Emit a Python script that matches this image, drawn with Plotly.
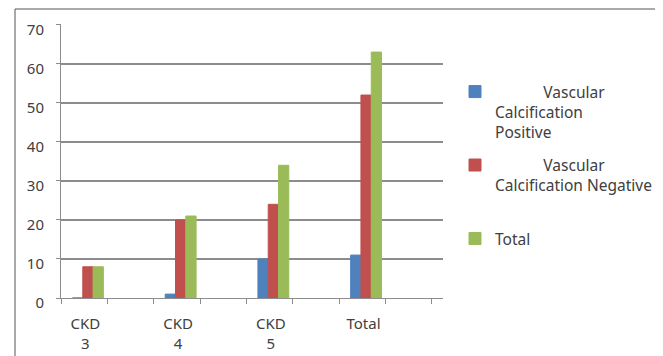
import plotly.graph_objects as go

# data
stages = ["CKD<br>3", "CKD<br>4", "CKD<br>5", "Total"]
vc_positive = [0, 1, 10, 11]
vc_negative = [8, 20, 24, 52]
vc_total = [8, 21, 34, 63]

_IND = "\u00a0" * 12
series_names = [
    _IND + "Vascular<br>Calcification<br>Positive",
    _IND + "Vascular<br>Calcification Negative<br>\u00a0",
    "Total",
]

# Excel 2007 palette
_BLUE = "#4F81BD"
_RED = "#C0504D"
_GREEN = "#9BBB59"
_GRID = "#8C8C8C"
_TEXT = "#404040"

# bar layout (category units), bars sit left of the category centre like the 3D original
_BAR_W = 0.111
_OFFSETS = [-0.376, -0.265, -0.154]
_XRANGE = [-0.5, 3.62]

# the page body adds an 8px margin, so the figure is drawn 8px smaller
_PAGE = 8
_W, _H = 663 - _PAGE, 356 - _PAGE
# plot area in window pixels
_L, _R, _T, _B = 61, 443, 24, 298

# category positions on a linear axis so ticks can sit at centres and boundaries
xpos = list(range(len(stages)))

fig = go.Figure()
for i, (name, vals, color, off) in enumerate(
    zip(series_names, [vc_positive, vc_negative, vc_total], [_BLUE, _RED, _GREEN], _OFFSETS)
):
    fig.add_trace(
        go.Bar(
            x=xpos,
            y=vals,
            name=name,
            legendgroup=f"g{i}",
            width=_BAR_W,
            offset=off,
            marker={"color": color, "line": {"color": color, "width": 1}},
            customdata=[s.replace("<br>", " ") for s in stages],
            hovertemplate="%{customdata}: %{y}<extra></extra>",
        )
    )


def _px(x):
    return (x - _L) / (_R - _L)


def _py(y):
    return (_B - y) / (_B - _T)


# outer frame of the original figure
fig.add_shape(
    type="rect",
    xref="paper",
    yref="paper",
    x0=_px(15),
    x1=_px(657),
    y0=_py(380),
    y1=_py(9),
    line={"color": "#555555", "width": 1},
    layer="below",
)

fig.update_layout(
    width=_W,
    height=_H,
    paper_bgcolor="white",
    plot_bgcolor="white",
    barmode="overlay",
    font={"family": "Noto Sans, Open Sans, sans-serif", "size": 15, "color": _TEXT},
    margin={
        "l": _L - _PAGE,
        "r": _W - (_R - _PAGE),
        "t": _T - _PAGE,
        "b": _H - (_B - _PAGE),
        "pad": 0,
        "autoexpand": False,
    },
    showlegend=True,
    legend={
        "x": _px(455),
        "y": _py(75),
        "xanchor": "left",
        "yanchor": "top",
        "valign": "top",
        "itemwidth": 30,
        "font": {"size": 15.5, "color": _TEXT},
        "bgcolor": "rgba(0,0,0,0)",
        "tracegroupgap": 10,
    },
    xaxis={
        "range": _XRANGE,
        "automargin": False,
        "tickvals": xpos,
        "ticktext": stages,
        "showline": True,
        "linecolor": _GRID,
        "linewidth": 1,
        "ticks": "outside",
        "ticklen": 5,
        "tickcolor": _GRID,
        "minor": {
            "ticks": "outside",
            "ticklen": 5,
            "tick0": -0.5,
            "dtick": 1,
            "tickcolor": _GRID,
            "showgrid": False,
        },
        "ticklabelshift": -22,
        "ticklabelstandoff": 7,
        "tickfont": {"size": 15},
        "showgrid": False,
        "zeroline": False,
        "fixedrange": True,
    },
    yaxis={
        "range": [0, 70.2],
        "tickvals": [0, 10, 20, 30, 40, 50, 60, 70],
        "automargin": False,
        "showline": True,
        "linecolor": _GRID,
        "linewidth": 1,
        "ticks": "outside",
        "ticklen": 4,
        "tickcolor": _GRID,
        "showgrid": True,
        "gridcolor": _GRID,
        "gridwidth": 1.5,
        "zeroline": False,
        "ticklabelshift": 5,
        "ticklabelstandoff": 9,
        "tickfont": {"size": 15},
        "fixedrange": True,
    },
)

fig.write_html("out.html")
